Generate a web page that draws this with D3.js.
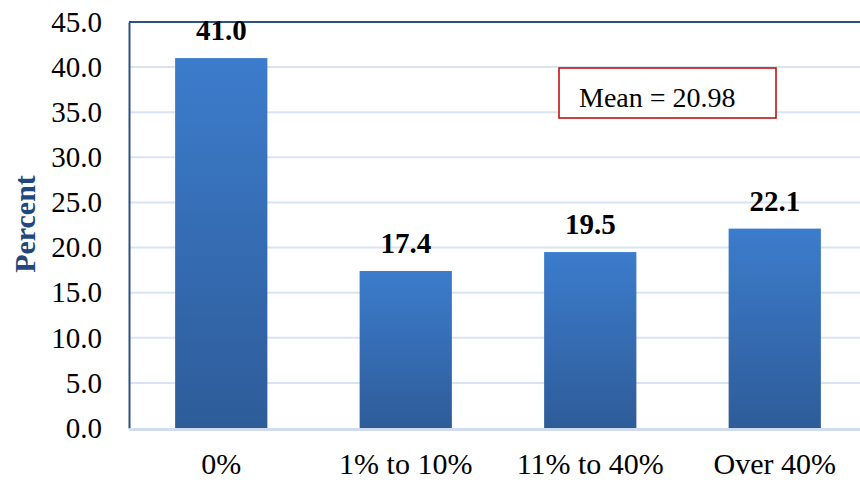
<!DOCTYPE html>
<html>
<head>
<meta charset="utf-8">
<script src="https://cdn.jsdelivr.net/npm/d3@7"></script>
<style>
    body { margin: 0; background: #fff; }
    svg { display: block; }
</style>
</head>
<body>
<div id="chart"></div>
<script>
// Chart data
const categories = ['0%', '1% to 10%', '11% to 40%', 'Over 40%']
const percents = [41.0, 17.4, 19.5, 22.1]
const yTicks = [0, 5, 10, 15, 20, 25, 30, 35, 40, 45]
const meanValue = 20.98

const width = 860
const height = 491
const plot = { left: 129, right: 867, top: 22, bottom: 428 }
const font = '"Liberation Serif", "Times New Roman", serif'

const svg = d3
    .select('#chart')
    .append('svg')
    .attr('width', width)
    .attr('height', height)

// Bar gradient, lighter at the top
const grad = svg
    .append('defs')
    .append('linearGradient')
    .attr('id', 'bar-fill')
    .attr('x1', 0)
    .attr('y1', 0)
    .attr('x2', 0)
    .attr('y2', 1)
grad.append('stop').attr('offset', '0%').attr('stop-color', '#3c7ccc')
grad.append('stop').attr('offset', '100%').attr('stop-color', '#2e5c99')

// Scales
const x = d3
    .scaleBand()
    .domain(categories)
    .range([plot.left, plot.right])
    .paddingInner(0.5)
    .paddingOuter(0.25)

const y = d3
    .scaleLinear()
    .domain([0, 45])
    .range([plot.bottom, plot.top])

// Gridlines
svg.append('g')
    .selectAll('line')
    .data(yTicks.filter((d) => d > 0 && d < 45))
    .join('line')
    .attr('x1', plot.left)
    .attr('x2', width)
    .attr('y1', (d) => y(d))
    .attr('y2', (d) => y(d))
    .attr('stroke', '#d9e4f3')
    .attr('stroke-width', 2)

// Top border of plot area
svg.append('line')
    .attr('x1', plot.left)
    .attr('x2', width)
    .attr('y1', y(45))
    .attr('y2', y(45))
    .attr('stroke', '#2c5282')
    .attr('stroke-width', 2)

// Bars
svg.append('g')
    .selectAll('rect')
    .data(percents)
    .join('rect')
    .attr('x', (d, i) => x(categories[i]))
    .attr('y', (d) => y(d))
    .attr('width', x.bandwidth())
    .attr('height', (d) => y(0) - y(d))
    .attr('fill', 'url(#bar-fill)')

// Value labels
svg.append('g')
    .selectAll('text')
    .data(percents)
    .join('text')
    .attr('x', (d, i) => x(categories[i]) + x.bandwidth() / 2)
    .attr('y', (d) => y(d) - 18)
    .attr('text-anchor', 'middle')
    .style('font-family', font)
    .style('font-size', '29px')
    .style('font-weight', 'bold')
    .text((d) => d.toFixed(1))

// Axes
const yAxis = d3
    .axisLeft(y)
    .tickValues(yTicks)
    .tickFormat((d) => d3.format('.1f')(d))
    .tickSize(0)
    .tickPadding(27)

const gy = svg
    .append('g')
    .attr('transform', `translate(${plot.left}, 0)`)
    .call(yAxis)
gy.select('.domain').attr('stroke', '#2c5282').attr('stroke-width', 2)
gy.selectAll('text')
    .style('font-family', font)
    .style('font-size', '29px')
    .attr('fill', '#000')

const xAxis = d3.axisBottom(x).tickSize(0).tickPadding(24)
const gx = svg
    .append('g')
    .attr('transform', `translate(0, ${plot.bottom + 1})`)
    .call(xAxis)
gx.select('.domain').attr('stroke', '#d0ddf0').attr('stroke-width', 3)
gx.selectAll('text')
    .style('font-family', font)
    .style('font-size', '30px')
    .attr('fill', '#000')

// Y axis title
svg.append('text')
    .attr('transform', `translate(35, 224) rotate(-90)`)
    .attr('text-anchor', 'middle')
    .style('font-family', font)
    .style('font-size', '30px')
    .style('font-weight', 'bold')
    .attr('fill', '#1f497d')
    .text('Percent')

// Mean annotation box
const meanBox = svg.append('g')
meanBox
    .append('rect')
    .attr('x', 559)
    .attr('y', 68)
    .attr('width', 217)
    .attr('height', 50)
    .attr('fill', '#fff')
    .attr('stroke', '#c00000')
    .attr('stroke-width', 1.5)
meanBox
    .append('text')
    .attr('x', 579)
    .attr('y', 107)
    .style('font-family', font)
    .style('font-size', '28px')
    .text(`Mean = ${meanValue}`)
</script>
</body>
</html>
